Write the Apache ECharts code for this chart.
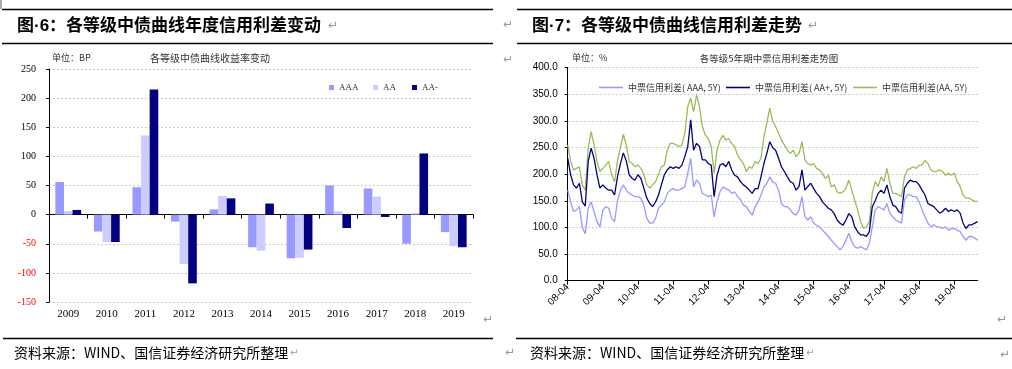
<!DOCTYPE html>
<html><head><meta charset="utf-8">
<script src="https://cdn.jsdelivr.net/npm/echarts@6/dist/echarts.min.js"></script>
<style>html,body{margin:0;padding:0;background:#fff}#c{width:1012px;height:369px}</style>
</head><body><div id="c"></div>
<script>
// ---- Figure 6 data (BP) ----
const years = ['2009','2010','2011','2012','2013','2014','2015','2016','2017','2018','2019'];
const barAAA = [56,-29,47,-12,9,-56,-75,50,45,-50,-30];
const barAA  = [6,-47,136,-85,32,-62,-74,6,31,3,-54];
const barAAm = [8,-47,215,-118,28,19,-60,-23,-4,105,-56];
const barYTicks = [-150,-100,-50,0,50,100,150,200,250];

// ---- Figure 7 data (monthly, 2008-04 .. 2019-12) ----
const monthStart = [2008, 4];
const monthCount = 141;
const lineAAA = [170,148,130,133,139,100,88,136,148,130,111,101,132,139,136,117,111,150,170,180,170,164,161,158,158,155,142,117,108,108,117,136,142,148,164,170,173,170,170,173,176,202,230,176,189,183,164,161,158,161,120,148,167,176,173,170,164,167,158,152,142,139,130,123,139,148,161,176,183,195,185,183,170,145,139,139,133,126,123,133,158,120,114,120,108,104,101,95,89,83,76,70,64,58,64,76,89,73,64,61,64,61,58,70,101,133,139,136,133,145,127,120,114,111,108,152,161,161,158,158,148,133,120,108,101,105,101,101,98,101,95,98,98,95,92,83,76,83,83,80,76];
const lineAAp = [230,199,180,174,183,148,140,224,249,230,199,174,180,174,170,170,161,195,220,240,225,199,192,189,199,192,174,155,145,139,148,161,180,199,208,214,211,214,211,217,233,252,302,245,258,252,227,227,220,217,158,198,217,220,214,224,208,198,195,186,180,176,170,164,173,173,195,220,239,261,250,245,230,214,205,195,186,183,170,177,208,170,177,183,173,164,158,148,142,136,133,126,114,108,104,114,126,120,101,92,86,86,83,92,139,150,164,170,164,180,158,142,139,130,127,174,183,189,186,186,180,170,161,145,142,139,133,127,130,136,130,133,130,133,127,108,98,105,105,108,111];
const lineAA  = [255,224,208,211,214,180,170,249,280,255,224,205,211,217,224,199,186,225,250,275,255,224,220,214,217,211,199,180,174,180,186,199,214,217,245,258,258,255,252,255,277,327,343,317,349,327,289,273,267,252,202,245,264,273,264,267,258,252,236,227,220,205,214,211,224,220,230,270,296,324,300,289,277,264,255,245,239,245,233,239,261,227,220,217,220,211,208,201,192,198,176,180,167,164,167,173,189,170,151,133,111,98,101,111,164,186,177,195,186,211,183,164,164,161,158,195,208,211,214,211,217,217,226,220,208,205,205,208,205,198,202,198,202,186,177,161,155,155,152,149,149];
const lineYTicks = [0,50,100,150,200,250,300,350,400];
const lineNames = ['中票信用利差( AAA, 5Y)','中票信用利差( AA+, 5Y)','中票信用利差(AA, 5Y)'];

const months = [];
for (let k = 0; k < monthCount; k++) {
  const m0 = monthStart[1] - 1 + k;
  const y = monthStart[0] + Math.floor(m0 / 12);
  const m = (m0 % 12) + 1;
  months.push(y + '-' + (m < 10 ? '0' + m : '' + m));
}

const serif = '"Liberation Serif", "Noto Serif CJK SC", serif';
const sans = '"Liberation Sans", Arial, sans-serif';
const cjk = '"Noto Sans CJK SC", sans-serif';
const gridLine = {lineStyle:{type:[2,2], color:'#c8c8c8', width:1}};

const chart = echarts.init(document.getElementById('c'));

function hline(x1, x2, y, w) {
  return {type:'line', shape:{x1:x1, y1:y, x2:x2, y2:y}, style:{stroke:'#000', lineWidth:w||1.5}, silent:true};
}
function txt(x, y, s, font, fill, align) {
  return {type:'text', style:{x:x, y:y, text:s, font:font, fill:fill||'#000', align:align||'left', verticalAlign:'middle'}, silent:true};
}
const ret = '↵';
const retFont = '12px "DejaVu Sans"';
const titleFont = 'bold 17px "Liberation Sans", "Noto Sans CJK SC", sans-serif';
const lineLegend = {itemWidth:24, itemHeight:1.6, icon:'rect', top:78, textStyle:{fontSize:9, color:'#333', fontFamily:cjk}};

const option = {
  animation: false,
  grid: [
    {left:49, top:69, width:424, height:233},
    {left:567.7, top:67.7, width:410, height:213}
  ],
  legend: [
    {data:['AAA'], left:324, top:78, icon:'rect', itemWidth:5, itemHeight:5, itemGap:4, textStyle:{fontSize:9, color:'#333', fontFamily:serif}},
    {data:['AA'], left:368, top:78, icon:'rect', itemWidth:5, itemHeight:5, itemGap:4, textStyle:{fontSize:9, color:'#333', fontFamily:serif}},
    {data:['AA-'], left:407, top:78, icon:'rect', itemWidth:5, itemHeight:5, itemGap:4, textStyle:{fontSize:9, color:'#333', fontFamily:serif}},
    Object.assign({data:[lineNames[0]], left:594}, lineLegend),
    Object.assign({data:[lineNames[1]], left:721}, lineLegend),
    Object.assign({data:[lineNames[2]], left:848}, lineLegend)
  ],
  xAxis: [
    {gridIndex:0, type:'category', data:years,
      axisLine:{onZero:true, lineStyle:{color:'#000', width:1}},
      axisTick:{show:true, length:4, lineStyle:{color:'#000'}},
      axisLabel:{show:false}, splitLine:{show:false}},
    {gridIndex:0, type:'category', data:years, position:'bottom',
      axisLine:{show:false, onZero:false}, axisTick:{show:false},
      axisLabel:{fontSize:11, fontFamily:serif, color:'#000', margin:7}},
    {gridIndex:1, type:'category', data:months, boundaryGap:false,
      axisLine:{lineStyle:{color:'#000', width:1}},
      axisTick:{show:true, length:4, interval:function(i){return i % 12 === 0;}, lineStyle:{color:'#000'}},
      axisLabel:{interval:function(i){return i % 12 === 0;}, rotate:45, fontSize:10, fontFamily:sans, color:'#000', margin:5,
        formatter:function(v){return v.slice(2);}}}
  ],
  yAxis: [
    {gridIndex:0, type:'value', min:barYTicks[0], max:barYTicks[barYTicks.length-1], interval:50,
      axisLine:{show:true, lineStyle:{color:'#000', width:1}},
      axisTick:{show:true, length:3, lineStyle:{color:'#000'}},
      splitLine:gridLine,
      axisLabel:{margin:13, fontSize:10, fontFamily:serif,
        color:function(v){return Number(v) < 0 ? '#ff0000' : '#000';}}},
    {gridIndex:1, type:'value', min:lineYTicks[0], max:lineYTicks[lineYTicks.length-1], interval:50,
      axisLine:{show:true, lineStyle:{color:'#000', width:1}},
      axisTick:{show:true, length:3, lineStyle:{color:'#000'}},
      splitLine:gridLine,
      axisLabel:{margin:10, fontSize:10, fontFamily:sans, color:'#000',
        formatter:function(v){return Number(v).toFixed(1);}}}
  ],
  series: [
    {name:'AAA', type:'bar', xAxisIndex:0, yAxisIndex:0, data:barAAA, barWidth:8.6, barGap:'0%', itemStyle:{color:'#9999ff'}},
    {name:'AA', type:'bar', xAxisIndex:0, yAxisIndex:0, data:barAA, barWidth:8.6, barGap:'0%', itemStyle:{color:'#ccccff'}},
    {name:'AA-', type:'bar', xAxisIndex:0, yAxisIndex:0, data:barAAm, barWidth:8.6, barGap:'0%', itemStyle:{color:'#000080'}},
    {name:lineNames[2], type:'line', xAxisIndex:2, yAxisIndex:1, data:lineAA, symbol:'none', lineStyle:{color:'#9bbb59', width:1.3}, itemStyle:{color:'#9bbb59'}},
    {name:lineNames[1], type:'line', xAxisIndex:2, yAxisIndex:1, data:lineAAp, symbol:'none', lineStyle:{color:'#000080', width:1.3}, itemStyle:{color:'#000080'}},
    {name:lineNames[0], type:'line', xAxisIndex:2, yAxisIndex:1, data:lineAAA, symbol:'none', lineStyle:{color:'#9999ff', width:1.3}, itemStyle:{color:'#9999ff'}}
  ],
  graphic: [
    {type:'rect', shape:{x:0, y:0, width:2, height:9}, style:{fill:'#aaa'}, silent:true},
    hline(2, 493, 9.5), hline(2, 493, 43.5), hline(3, 493, 338.5),
    hline(517, 1012, 9.5), hline(517, 1012, 43.5), hline(516, 1012, 338.5),
    txt(17, 26, '图·6：各等级中债曲线年度信用利差变动', titleFont),
    txt(532, 26, '图·7：各等级中债曲线信用利差走势', titleFont),
    txt(52, 58, '单位：BP', '9px ' + cjk, '#333'),
    txt(150, 58, '各等级中债曲线收益率变动', '10px ' + cjk, '#333'),
    txt(572, 58, '单位：%', '9px ' + cjk, '#333'),
    txt(769, 58, '各等级5年期中票信用利差走势图', '9.5px ' + cjk, '#333', 'center'),
    txt(14, 353, '资料来源：WIND、国信证券经济研究所整理', '14px ' + cjk),
    txt(530, 353, '资料来源：WIND、国信证券经济研究所整理', '14px ' + cjk),
    txt(328, 26, ret, retFont, '#999'),
    txt(808, 26, ret, retFont, '#999'),
    txt(503, 25, ret, retFont, '#999'),
    txt(503, 60, ret, retFont, '#999'),
    txt(483, 320, ret, retFont, '#999'),
    txt(997, 320, ret, retFont, '#999'),
    txt(290, 353, ret, '10px "DejaVu Sans"', '#999'),
    txt(806, 353, ret, '10px "DejaVu Sans"', '#999'),
    txt(505, 353, ret, retFont, '#999'),
    txt(1000, 355, ret, retFont, '#999')
  ]
};
chart.setOption(option);
</script>
</body></html>
